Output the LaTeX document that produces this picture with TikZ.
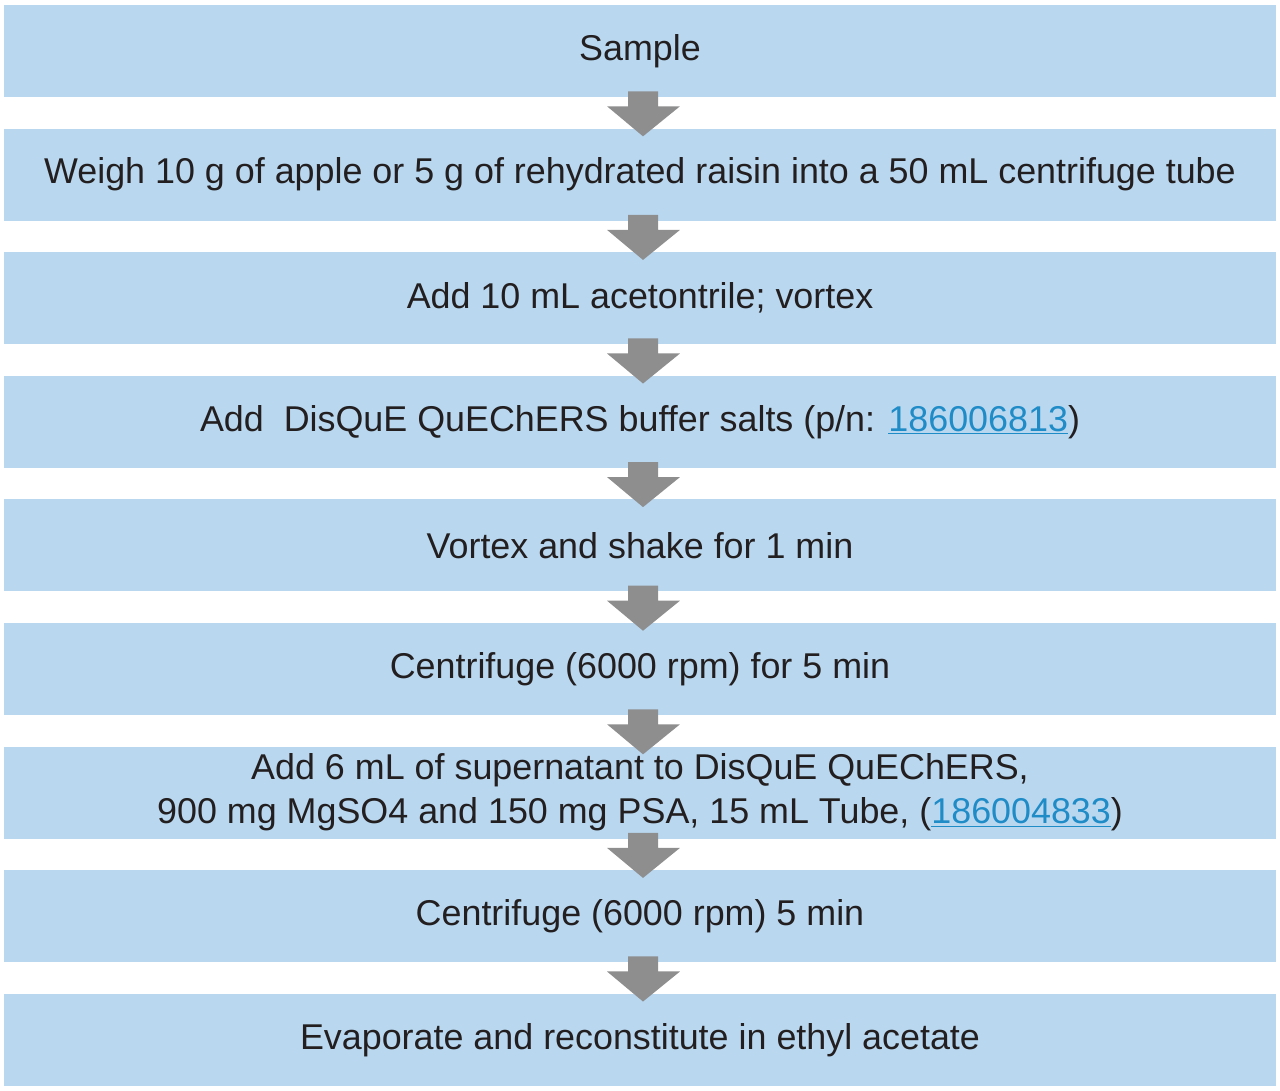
\documentclass[tikz,border=0pt]{standalone}
\usepackage{fontspec}
\setmainfont{Liberation Sans}
\usepackage{xcolor}
\usepackage{tikz}
\usetikzlibrary{calc}

\definecolor{boxblue}{HTML}{B9D8F0}
\definecolor{arrowgray}{HTML}{8E8E8E}
\definecolor{textdark}{HTML}{231F20}
\definecolor{linkblue}{HTML}{1F8BC7}
\newcommand{\partno}[1]{\textcolor{linkblue}{\underline{#1}}}

\begin{document}
\begin{tikzpicture}[
  x=0.75pt, y=-0.75pt,
  stepbox/.style={rectangle, fill=boxblue, minimum width=954pt, minimum height=69pt, align=center, inner sep=0pt,
    text=textdark, font=\fontsize{26.9}{33}\selectfont},
  arr/.style={fill=arrowgray}
]
\useasboundingbox (0,0) rectangle (1280,1091);

% Steps
\node[stepbox] (sample) at (640,51) {Sample};
\node[stepbox] (weigh) at (640,174.6) {Weigh 10 g of apple or 5 g of rehydrated raisin into a 50 mL centrifuge tube};
\node[stepbox] (acn) at (640,298.2) {Add 10 mL acetontrile; vortex};
\node[stepbox] (salts) at (640,421.8) {Add~~DisQuE QuEChERS buffer salts (p/n: \partno{186006813})};
\node[stepbox] (shake) at (640,545.4) {Vortex and shake for 1 min};
\node[stepbox] (spin1) at (640,669) {Centrifuge (6000 rpm) for 5 min};
\node[stepbox] (dspe) at (640,792.6) {Add 6 mL of supernatant to DisQuE QuEChERS,\\900 mg MgSO4 and 150 mg PSA, 15 mL Tube, (\partno{186004833})};
\node[stepbox] (spin2) at (640,916.2) {Centrifuge (6000 rpm) 5 min};
\node[stepbox] (evap) at (640,1039.8) {Evaporate and reconstitute in ethyl acetate};

% Block arrows between steps
\foreach \a/\b in {sample/weigh, weigh/acn, acn/salts, salts/shake, shake/spin1, spin1/dspe, dspe/spin2, spin2/evap}
  \fill[arr] ($(\a.south)+(-12,-6)$) -- ($(\a.south)+(18,-6)$) -- ($(\a.south)+(18,9)$) -- ($(\a.south)+(40,9)$)
    -- ($(\b.north)+(3,8)$) -- ($(\a.south)+(-33,9)$) -- ($(\a.south)+(-12,9)$) -- cycle;

\end{tikzpicture}
\end{document}
